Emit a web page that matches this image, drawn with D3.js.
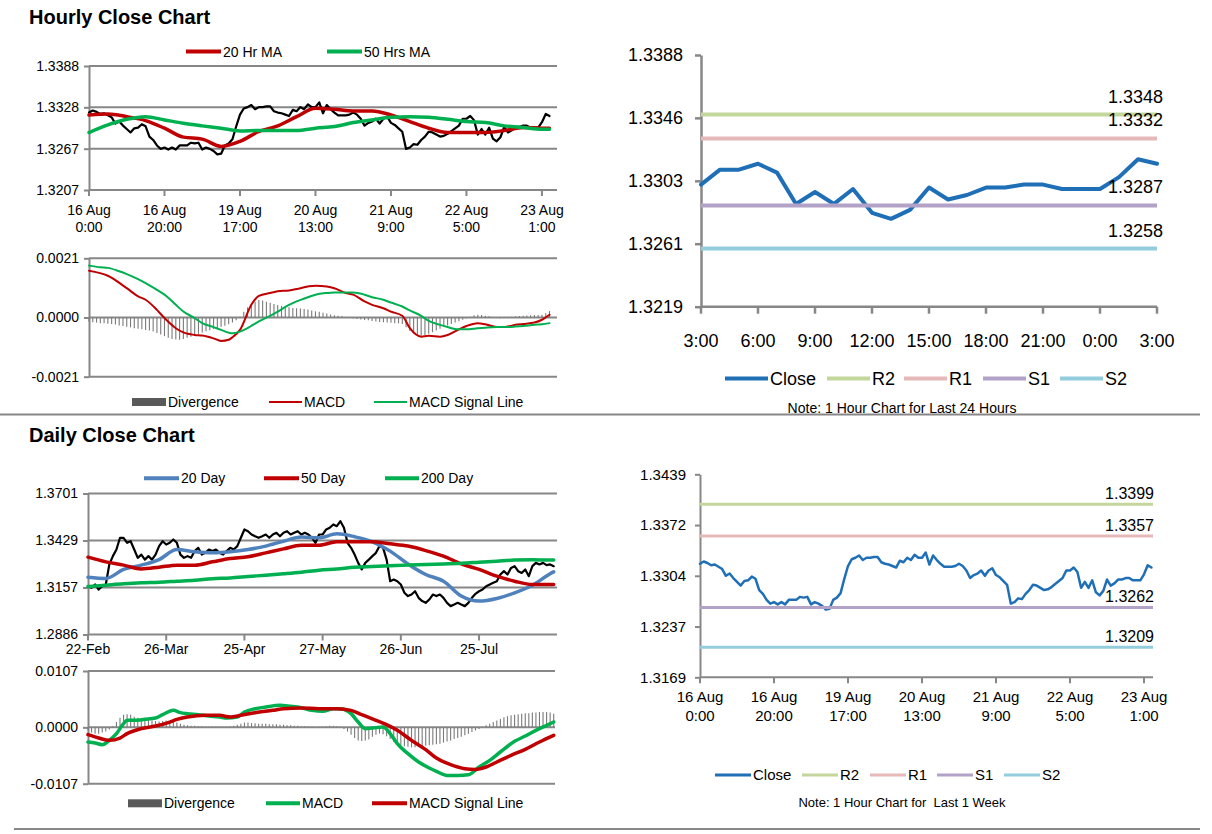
<!DOCTYPE html>
<html>
<head>
<meta charset="utf-8">
<title>Hourly and Daily Close Charts</title>
<script src="https://d3js.org/d3.v7.min.js"></script>
<style>
  body { margin: 0; background: #fff; }
</style>
</head>
<body>
<div id="chart"></div>
<script>
// ---- hourly closes, 16 Aug 0:00 .. 23 Aug 3:00 (one per hour, weekend skipped)
const hourClose = [
  1.3320, 1.3323, 1.3321, 1.3318, 1.3319, 1.3316, 1.3313, 1.3304, 1.3307, 1.3301,
  1.3296, 1.3291, 1.3297, 1.3298, 1.3303, 1.3300, 1.3285, 1.3280, 1.3272, 1.3267,
  1.3269, 1.3266, 1.3269, 1.3266, 1.3272, 1.3272, 1.3272, 1.3276, 1.3275, 1.3276,
  1.3266, 1.3269, 1.3267, 1.3264, 1.3259, 1.3260, 1.3272, 1.3275, 1.3281, 1.3300,
  1.3317, 1.3326, 1.3328, 1.3331, 1.3325, 1.3328, 1.3328, 1.3329, 1.3329, 1.3322,
  1.3320, 1.3319, 1.3317, 1.3315, 1.3324, 1.3322, 1.3328, 1.3325, 1.3332, 1.3328,
  1.3328, 1.3335, 1.3319, 1.3331, 1.3325, 1.3320, 1.3316, 1.3316, 1.3316, 1.3317,
  1.3320, 1.3317, 1.3311, 1.3301, 1.3305, 1.3307, 1.3311, 1.3304, 1.3311, 1.3314,
  1.3305, 1.3302, 1.3297, 1.3292, 1.3267, 1.3269, 1.3274, 1.3273, 1.3280, 1.3285,
  1.3292, 1.3291, 1.3288, 1.3285, 1.3286, 1.3289, 1.3293, 1.3297,
  1.3301, 1.3311, 1.3311, 1.3315, 1.3309, 1.3288, 1.3296, 1.3288, 1.3298, 1.3282,
  1.3278, 1.3284, 1.3299, 1.3291, 1.3294, 1.3299, 1.3299, 1.3301, 1.3301, 1.3298,
  1.3298, 1.3298, 1.3306, 1.3318, 1.3315
];
const hourTicks = [0, 20, 40, 60, 80, 100, 120];
const hourTickLabels = [["16 Aug", "0:00"], ["16 Aug", "20:00"], ["19 Aug", "17:00"], ["20 Aug", "13:00"],
  ["21 Aug", "9:00"], ["22 Aug", "5:00"], ["23 Aug", "1:00"]];

// moving averages: [hour index, value]
const hourMa20 = [[0, 1.33165], [5, 1.3318], [10, 1.33141], [15, 1.33083], [20, 1.32972], [25, 1.32842],
  [30, 1.32813], [35, 1.32706], [40, 1.32779], [45, 1.32924], [50, 1.33006], [55, 1.33141], [60, 1.33262],
  [65, 1.33247], [70, 1.33223], [75, 1.33223], [80, 1.33165], [85, 1.33069], [90, 1.32972], [95, 1.32909],
  [100, 1.32909], [105, 1.32909], [110, 1.32938], [115, 1.32982], [120, 1.32972], [122, 1.32972]];
const hourMa50 = [[0, 1.32909], [5, 1.3302], [10, 1.33102], [15, 1.33141], [20, 1.33093], [25, 1.33044],
  [30, 1.33006], [35, 1.32972], [40, 1.32933], [45, 1.32938], [50, 1.32938], [55, 1.32938], [60, 1.32972],
  [65, 1.32996], [70, 1.33054], [75, 1.33093], [80, 1.33131], [85, 1.33141], [90, 1.33131], [95, 1.33102],
  [100, 1.33069], [105, 1.33054], [110, 1.33006], [115, 1.32982], [120, 1.32957], [122, 1.32957]];

// hourly MACD
const hourMacd = [[0, 0.00166], [5, 0.00148], [10, 0.00104], [13, 0.00075], [15, 0.00063], [18, 0.00027],
  [20, -0.00002], [23, -0.00038], [25, -0.00053], [28, -0.00062], [30, -0.00064], [33, -0.00074], [35, -0.00083],
  [37, -0.00079], [38, -0.0007], [40, -0.00044], [43, 0.00045], [45, 0.00077], [48, 0.00087], [50, 0.00093],
  [53, 0.00096], [55, 0.00101], [58, 0.0011], [60, 0.00113], [63, 0.0011], [65, 0.00104], [68, 0.00087],
  [70, 0.00081], [73, 0.00057], [75, 0.00045], [78, 0.00033], [80, 0.00021], [83, 0.00006], [85, -0.00038],
  [88, -0.00068], [90, -0.00065], [93, -0.00068], [95, -0.00062], [98, -0.00042], [100, -0.0003], [103, -0.0002],
  [105, -0.00024], [108, -0.00034], [110, -0.00034], [113, -0.00026], [115, -0.00023], [118, -0.00018],
  [120, -0.00008], [122, 0.0001]];
const hourSignal = [[0, 0.00184], [3, 0.00178], [5, 0.00176], [8, 0.00164], [10, 0.00154], [13, 0.00136],
  [15, 0.00122], [18, 0.00098], [20, 0.00081], [23, 0.00045], [25, 0.00021], [28, -0.00002], [30, -0.0002],
  [33, -0.00034], [35, -0.00044], [38, -0.00056], [40, -0.0005], [43, -0.0003], [45, -0.00014], [48, 0.00006],
  [50, 0.00021], [53, 0.00045], [55, 0.00057], [58, 0.00072], [60, 0.00081], [63, 0.00087], [65, 0.00089],
  [68, 0.00089], [70, 0.00089], [73, 0.00081], [75, 0.00072], [78, 0.00063], [80, 0.00053], [83, 0.00039],
  [85, 0.00025], [88, 0.00006], [90, -0.00012], [93, -0.00026], [95, -0.00034], [98, -0.00042], [100, -0.00042],
  [103, -0.00038], [105, -0.00036], [108, -0.00034], [110, -0.00034], [113, -0.00032], [115, -0.0003],
  [118, -0.00026], [120, -0.00024], [122, -0.0002]];
// divergence per hour, in units of 0.0001
const hourDiv = [
  -1.5, -1.7, -1.8, -2.0, -2.0, -2.2, -2.3, -2.5, -2.8, -3.0,
  -3.3, -3.5, -3.8, -4.0, -4.2, -4.4, -4.6, -5.0, -5.5, -6.0,
  -6.6, -7.2, -7.6, -7.8, -7.9, -7.6, -7.2, -6.8, -6.3, -5.8,
  -5.3, -4.9, -4.5, -4.1, -3.7, -3.3, -2.9, -2.4, -1.8, -1.0,
  0.3, 2.0, 3.6, 4.8, 5.6, 6.2, 6.0, 5.6, 5.2, 4.8,
  4.4, 4.1, 3.8, 3.6, 3.4, 3.3, 3.2, 3.0, 2.8, 2.5,
  2.2, 2.0, 1.7, 1.4, 1.1, 0.8, 0.6, 0.4, 0.2, -0.1,
  -0.3, -0.5, -0.7, -0.9, -1.0, -1.2, -1.4, -1.6, -1.7, -1.8,
  -1.9, -2.0, -2.1, -2.3, -3.5, -4.8, -5.6, -6.2, -6.5, -6.3,
  -5.8, -5.2, -4.6, -4.0, -3.4, -2.8, -2.3, -1.8, -1.3, -0.8,
  -0.3, 0.3, 0.8, 1.0, 0.9, 0.6, 0.4, 0.2, -0.1, -0.3,
  -0.2, 0.1, 0.3, 0.4, 0.5, 0.6, 0.7, 0.8, 0.9, 0.9,
  1.0, 1.5, 2.3
];

// ---- daily closes, 22 Feb .. 23 Aug
const dayClose = [
  1.3165, 1.3156, 1.3175, 1.3146, 1.3165, 1.3175, 1.3291, 1.3339, 1.3377, 1.3445,
  1.3445, 1.3416, 1.3425, 1.3377, 1.3329, 1.3348, 1.3319, 1.3339, 1.3319, 1.3348,
  1.3397, 1.3425, 1.3406, 1.3416, 1.3435, 1.3416, 1.3348, 1.3329, 1.3339, 1.3329,
  1.3368, 1.3387, 1.3348, 1.3358, 1.3377, 1.3368, 1.3377, 1.3358, 1.3348, 1.3368,
  1.3387, 1.3377, 1.3397, 1.3445, 1.3493, 1.3483, 1.3464, 1.3454, 1.3445, 1.3454,
  1.3464, 1.3445, 1.3464, 1.3474, 1.3454, 1.3474, 1.3483, 1.3464, 1.3474, 1.3483,
  1.3464, 1.3474, 1.3464, 1.3445, 1.3416, 1.3464, 1.3464, 1.3493, 1.3503, 1.3522,
  1.3512, 1.3541, 1.3503, 1.3416, 1.3387, 1.3348, 1.3300, 1.3262, 1.3300, 1.3319,
  1.3339, 1.3358, 1.3397, 1.3387, 1.3319, 1.3194, 1.3204, 1.3194, 1.3175, 1.3127,
  1.3108, 1.3117, 1.3136, 1.3098, 1.3079, 1.3069, 1.3088, 1.3117, 1.3108, 1.3117,
  1.3098, 1.3069, 1.3050, 1.3059, 1.3069, 1.3059, 1.3050, 1.3069, 1.3098, 1.3121,
  1.3136, 1.3146, 1.3165, 1.3175, 1.3185, 1.3194, 1.3233, 1.3252, 1.3233, 1.3271,
  1.3281, 1.3252, 1.3242, 1.3262, 1.3223, 1.3281, 1.3300, 1.3291, 1.3300, 1.3287,
  1.3291, 1.3281
];
const dayTicks = [0, 22, 44, 66, 88, 110];
const dayTickLabels = ["22-Feb", "26-Mar", "25-Apr", "27-May", "26-Jun", "25-Jul"];

const day20 = [[0, 1.3217], [5, 1.3210], [10, 1.3262], [15, 1.3287], [20, 1.3319], [25, 1.3377], [30, 1.3364],
  [35, 1.3358], [40, 1.3364], [45, 1.3377], [50, 1.3397], [55, 1.3425], [60, 1.3449], [65, 1.3445], [70, 1.3468],
  [75, 1.3451], [80, 1.3422], [85, 1.3368], [90, 1.3294], [95, 1.3233], [100, 1.3194], [105, 1.3108],
  [110, 1.3079], [115, 1.3094], [120, 1.3127], [125, 1.3171], [130, 1.3237], [131, 1.3248]];
const day50 = [[0, 1.3333], [5, 1.3306], [10, 1.3287], [15, 1.3265], [20, 1.3275], [25, 1.3287], [30, 1.3287],
  [35, 1.3306], [40, 1.3325], [45, 1.3335], [50, 1.3358], [55, 1.3381], [60, 1.3402], [65, 1.3402], [70, 1.3422],
  [75, 1.3422], [80, 1.3422], [85, 1.3410], [90, 1.3397], [95, 1.3371], [100, 1.3339], [105, 1.3294],
  [110, 1.3262], [115, 1.3223], [120, 1.3194], [125, 1.3175], [130, 1.3175], [131, 1.3175]];
const day200 = [[0, 1.3163], [5, 1.3171], [10, 1.3179], [15, 1.3185], [20, 1.3188], [25, 1.3194], [30, 1.3200],
  [35, 1.3208], [40, 1.3213], [45, 1.3221], [50, 1.3229], [55, 1.3237], [60, 1.3246], [65, 1.3258], [70, 1.3265],
  [75, 1.3275], [80, 1.3279], [85, 1.3283], [90, 1.3287], [95, 1.3291], [100, 1.3294], [105, 1.3298],
  [110, 1.3304], [115, 1.3310], [120, 1.3316], [125, 1.3318], [130, 1.3316], [131, 1.3316]];

// daily MACD, in units of 0.0001
const dayMacd = [[0, -27.9], [2, -29.8], [4, -32.9], [6, -24.7], [8, -12.0], [10, 7.0], [11, 13.3], [13, 13.3],
  [16, 15.2], [19, 17.7], [21, 24.1], [24, 32.3], [26, 27.9], [28, 26.0], [31, 24.1], [34, 21.5], [37, 19.6],
  [39, 17.7], [42, 19.6], [44, 29.1], [47, 35.4], [50, 38.6], [54, 41.8], [57, 39.9], [60, 37.3], [63, 32.3],
  [66, 30.4], [69, 35.4], [71, 35.4], [74, 26.0], [76, 10.1], [78, -2.5], [80, -1.3], [83, 0.6], [85, -12.0],
  [87, -31.0], [90, -50.0], [93, -65.8], [96, -77.2], [98, -83.6], [101, -91.2], [104, -91.2], [107, -89.9],
  [110, -75.3], [113, -62.7], [116, -46.8], [120, -26.6], [123, -16.5], [126, -5.7], [129, 3.8], [131, 10.1]];
const daySignal = [[0, -13.9], [3, -20.3], [6, -24.7], [9, -20.3], [11, -12.0], [15, -2.5], [19, 2.5], [23, 10.1],
  [25, 15.2], [28, 19.6], [33, 22.8], [37, 22.8], [40, 19.6], [43, 22.8], [47, 27.9], [52, 32.3], [55, 35.4],
  [60, 36.7], [65, 35.4], [70, 35.4], [74, 32.3], [77, 24.1], [81, 13.3], [84, 5.1], [87, -5.7], [91, -24.7],
  [95, -42.4], [98, -58.2], [102, -70.9], [106, -78.5], [109, -79.8], [112, -75.3], [115, -65.8], [119, -53.2],
  [123, -41.8], [127, -27.9], [131, -15.2]];
// daily divergence, in units of 0.001
const dayDiv = [
  -0.6, -1.0, -1.2, -1.2, -1.0, -0.8, -0.4, 0.2, 1.0, 1.8,
  2.4, 2.5, 2.4, 2.0, 1.8, 1.6, 1.5, 1.4, 1.3, 1.2,
  1.1, 1.2, 1.3, 1.2, 1.0, 0.9, 0.7, 0.5, 0.4, 0.3,
  0.3, 0.2, 0.2, 0.1, 0.1, 0.1, 0.1, 0.1, 0.1, 0.1,
  0.2, 0.3, 0.5, 0.7, 0.9, 0.9, 0.8, 0.8, 0.7, 0.7,
  0.7, 0.6, 0.6, 0.6, 0.5, 0.5, 0.4, 0.4, 0.3, 0.3,
  0.2, 0.2, 0.1, 0.1, 0.0, -0.1, 0.1, 0.2, 0.3, 0.3,
  0.2, 0.1, -0.3, -0.8, -1.4, -2.0, -2.5, -2.6, -2.5, -2.3,
  -1.8, -1.4, -1.2, -1.3, -1.7, -2.2, -2.8, -3.2, -3.4, -3.6,
  -3.7, -3.8, -3.8, -3.7, -3.6, -3.5, -3.4, -3.3, -3.2, -3.1,
  -2.9, -2.7, -2.5, -2.2, -2.0, -1.8, -1.5, -1.2, -0.9, -0.6,
  -0.3, 0.1, 0.4, 0.7, 1.0, 1.3, 1.6, 1.9, 2.1, 2.3,
  2.4, 2.5, 2.6, 2.7, 2.7, 2.8, 2.8, 2.9, 2.9, 2.9,
  2.8, 2.6
];

// ---- pivot levels
const levelNames = ["R2", "R1", "S1", "S2"];
const levelColors = ["#c3d69b", "#e6b9b8", "#b3a2c7", "#93cddd"];
const levels24h = [1.3348, 1.3332, 1.3287, 1.3258];
const levelsWeek = [1.3399, 1.3357, 1.3262, 1.3209];
const dayHourLabels = ["3:00", "6:00", "9:00", "12:00", "15:00", "18:00", "21:00", "0:00", "3:00"];

const grey = "#878787";
const red = "#c00000", green = "#00b050", blue = "#4f81bd", closeBlue = "#1f6fb7";

const svg = d3.select("#chart").append("svg")
  .attr("width", 1212).attr("height", 834)
  .style("font-family", "'Liberation Sans', Arial, sans-serif");

function txt(x, y, s, size, anchor, weight) {
  return svg.append("text").attr("x", x).attr("y", y).attr("font-size", size)
    .attr("text-anchor", anchor || "start").attr("font-weight", weight || "normal")
    .attr("fill", "#000").text(s);
}

// left panels: gridlines at every tick, the lowest one doubles as the axis line
function leftFrame(x, y, yVals, yLabels, right) {
  const x0 = x.range()[0];
  svg.append("g").selectAll("line").data(yVals).join("line")
    .attr("x1", x0).attr("x2", right)
    .attr("y1", d => y(d)).attr("y2", d => y(d))
    .attr("stroke", grey).attr("stroke-width", 2);
  const ax = svg.append("g").attr("transform", `translate(${x0},0)`)
    .call(d3.axisLeft(y).tickValues(yVals).tickFormat((d, i) => yLabels[i])
      .tickSizeInner(5).tickSizeOuter(0).tickPadding(5));
  ax.select(".domain").attr("stroke", grey).attr("stroke-width", 2);
  ax.selectAll(".tick line").attr("stroke", grey).attr("stroke-width", 2);
  ax.selectAll(".tick text").attr("font-size", 14).attr("fill", "#000").attr("font-family", null);
}

function xTicks(x, yBase, ticks, len, width) {
  svg.append("g").selectAll("line").data(ticks).join("line")
    .attr("x1", d => x(d)).attr("x2", d => x(d))
    .attr("y1", yBase).attr("y2", yBase + len)
    .attr("stroke", grey).attr("stroke-width", width || 2);
}

function path(data, x, y, color, width, smooth) {
  const line = d3.line().x(d => x(d[0])).y(d => y(d[1]));
  if (smooth) line.curve(d3.curveMonotoneX);
  svg.append("path").datum(data).attr("d", line)
    .attr("fill", "none").attr("stroke", color).attr("stroke-width", width)
    .attr("stroke-linejoin", "round").attr("stroke-linecap", "round");
}

function bars(values, x, y) {
  svg.append("g").selectAll("line").data(values).join("line")
    .attr("x1", (d, i) => x(i)).attr("x2", (d, i) => x(i))
    .attr("y1", y(0)).attr("y2", d => y(d))
    .attr("stroke", "#7a7a7a").attr("stroke-width", 1.1);
}

function legendLine(x, y, w, color, sw, label, size) {
  svg.append("line").attr("x1", x).attr("x2", x + w).attr("y1", y).attr("y2", y)
    .attr("stroke", color).attr("stroke-width", sw);
  txt(x + w + 2, y, label, size).attr("dy", "0.36em");
}
function legendBar(x, y, w, label, size) {
  svg.append("rect").attr("x", x).attr("y", y - 4).attr("width", w).attr("height", 8).attr("fill", "#595959");
  txt(x + w + 2, y, label, size).attr("dy", "0.36em");
}

// ================= Hourly Close Chart (top left)
txt(29, 24, "Hourly Close Chart", 20, "start", "bold");
const xH = d3.scaleLinear().domain([0, 122]).range([89, 549.5]);
const yH = d3.scaleLinear().domain([1.3207, 1.3388]).range([190, 66]);
leftFrame(xH, yH, [1.3207, 1.32673, 1.33277, 1.3388], ["1.3207", "1.3267", "1.3328", "1.3388"], 557);
xTicks(xH, 190, hourTicks, 6);
hourTicks.forEach((t, i) => {
  txt(xH(t), 215, hourTickLabels[i][0], 14, "middle");
  txt(xH(t), 232, hourTickLabels[i][1], 14, "middle");
});
path(hourClose.map((v, i) => [i, v]), xH, yH, "#000", 2.2);
path(hourMa20, xH, yH, red, 3.5, true);
path(hourMa50, xH, yH, green, 3.5, true);
legendLine(186, 51.5, 35, red, 4, "20 Hr MA", 14);
legendLine(327, 51.5, 35, green, 4, "50 Hrs MA", 14);

// hourly MACD
const yHM = d3.scaleLinear().domain([-0.0021, 0.0021]).range([376.7, 258.3]);
leftFrame(xH, yHM, [-0.0021, 0, 0.0021], ["-0.0021", "0.0000", "0.0021"], 557);
bars(hourDiv.map(v => v * 1e-4), xH, yHM);
path(hourMacd, xH, yHM, red, 2, true);
path(hourSignal, xH, yHM, green, 2, true);
legendBar(132, 402, 34, "Divergence", 14);
legendLine(269, 402, 33, red, 2, "MACD", 14);
legendLine(374, 402, 33, green, 2, "MACD Signal Line", 14);

// ================= last 24 hours (top right)
const last24 = hourClose.slice(-25);
const xT = d3.scaleLinear().domain([0, 24]).range([701, 1157]);
const yT = d3.scaleLinear().domain([1.3219, 1.3388]).range([306.7, 55]);
const axT = svg.append("g").attr("transform", "translate(701,0)")
  .call(d3.axisLeft(yT).tickValues([1.3219, 1.32613, 1.33035, 1.33458, 1.3388])
    .tickFormat((d, i) => ["1.3219", "1.3261", "1.3303", "1.3346", "1.3388"][i])
    .tickSizeInner(6).tickSizeOuter(0).tickPadding(12));
axT.select(".domain").attr("stroke", grey).attr("stroke-width", 2.5);
axT.selectAll(".tick line").attr("stroke", grey).attr("stroke-width", 2.5);
axT.selectAll(".tick text").attr("font-size", 18).attr("fill", "#000").attr("font-family", null);
svg.append("line").attr("x1", 701).attr("x2", 1157).attr("y1", 306.7).attr("y2", 306.7)
  .attr("stroke", grey).attr("stroke-width", 2.5);
xTicks(xT, 306.7, d3.range(0, 25, 3), 7, 2.5);
dayHourLabels.forEach((s, i) => txt(xT(i * 3), 347, s, 18, "middle"));
path(last24.map((v, i) => [i, v]), xT, yT, closeBlue, 4);
levels24h.forEach((v, i) => {
  svg.append("line").attr("x1", xT(0)).attr("x2", xT(24)).attr("y1", yT(v)).attr("y2", yT(v))
    .attr("stroke", levelColors[i]).attr("stroke-width", 4);
  txt(1163, yT(v) - 12, v.toFixed(4), 18, "end");
});
legendLine(725, 378.5, 43, closeBlue, 4, "Close", 18);
levelNames.forEach((n, i) => legendLine([827, 904, 983, 1060][i], 378.5, 43, levelColors[i], 4, n, 18));
txt(902, 413, "Note: 1 Hour Chart for Last 24 Hours", 14, "middle");

// dividers
svg.append("line").attr("x1", 0).attr("x2", 1200).attr("y1", 414.5).attr("y2", 414.5)
  .attr("stroke", grey).attr("stroke-width", 2);
svg.append("line").attr("x1", 14).attr("x2", 1200).attr("y1", 829).attr("y2", 829)
  .attr("stroke", grey).attr("stroke-width", 2);

// ================= Daily Close Chart (bottom left)
txt(29, 441.5, "Daily Close Chart", 20, "start", "bold");
const xD = d3.scaleLinear().domain([0, 131]).range([88, 553.7]);
const yD = d3.scaleLinear().domain([1.2886, 1.3701]).range([634.5, 493.5]);
leftFrame(xD, yD, [1.2886, 1.31577, 1.34293, 1.3701], ["1.2886", "1.3157", "1.3429", "1.3701"], 557);
xTicks(xD, 634.5, dayTicks, 6);
dayTicks.forEach((t, i) => txt(xD(t), 654, dayTickLabels[i], 14, "middle"));
path(dayClose.map((v, i) => [i, v]), xD, yD, "#000", 2.2);
path(day20, xD, yD, blue, 3.5, true);
path(day50, xD, yD, red, 3.5, true);
path(day200, xD, yD, green, 3.5, true);
legendLine(144, 478.3, 35, blue, 4, "20 Day", 14);
legendLine(264, 478.3, 35, red, 4, "50 Day", 14);
legendLine(385, 478.3, 34, green, 4, "200 Day", 14);

// daily MACD
const yDM = d3.scaleLinear().domain([-0.0107, 0.0107]).range([783.7, 671]);
leftFrame(xD, yDM, [-0.0107, 0, 0.0107], ["-0.0107", "0.0000", "0.0107"], 555);
bars(dayDiv.map(v => v * 1e-3), xD, yDM);
path(dayMacd.map(d => [d[0], d[1] * 1e-4]), xD, yDM, green, 3.5, true);
path(daySignal.map(d => [d[0], d[1] * 1e-4]), xD, yDM, red, 3.5, true);
legendBar(128, 803.3, 34, "Divergence", 14);
legendLine(266, 803.3, 34, green, 4, "MACD", 14);
legendLine(372, 803.3, 35, red, 4, "MACD Signal Line", 14);

// ================= last week hourly (bottom right)
const xW = d3.scaleLinear().domain([0, 122]).range([700, 1151.4]);
const yW = d3.scaleLinear().domain([1.3169, 1.3439]).range([677.3, 474.3]);
const axW = svg.append("g").attr("transform", "translate(700,0)")
  .call(d3.axisLeft(yW).tickValues([1.3169, 1.32365, 1.3304, 1.33715, 1.3439])
    .tickFormat((d, i) => ["1.3169", "1.3237", "1.3304", "1.3372", "1.3439"][i])
    .tickSizeInner(5).tickSizeOuter(0).tickPadding(9));
axW.select(".domain").attr("stroke", grey).attr("stroke-width", 2);
axW.selectAll(".tick line").attr("stroke", grey).attr("stroke-width", 2);
axW.selectAll(".tick text").attr("font-size", 15).attr("fill", "#000").attr("font-family", null);
svg.append("line").attr("x1", 700).attr("x2", 1153).attr("y1", 677.3).attr("y2", 677.3)
  .attr("stroke", grey).attr("stroke-width", 2);
xTicks(xW, 677.3, hourTicks, 6);
hourTicks.forEach((t, i) => {
  txt(xW(t), 702, hourTickLabels[i][0], 15, "middle");
  txt(xW(t), 721, hourTickLabels[i][1], 15, "middle");
});
path(hourClose.map((v, i) => [i, v]), xW, yW, closeBlue, 2.5);
levelsWeek.forEach((v, i) => {
  svg.append("line").attr("x1", xW(0)).attr("x2", 1153).attr("y1", yW(v)).attr("y2", yW(v))
    .attr("stroke", levelColors[i]).attr("stroke-width", 3);
  txt(1154, yW(v) - 5, v.toFixed(4), 16, "end");
});
legendLine(715, 775, 36, closeBlue, 3, "Close", 15);
levelNames.forEach((n, i) => legendLine([802, 870, 937, 1004][i], 775, 36, levelColors[i], 3, n, 15));
txt(902, 807, "Note: 1 Hour Chart for  Last 1 Week", 13, "middle").attr("xml:space", "preserve");
</script>
</body>
</html>
